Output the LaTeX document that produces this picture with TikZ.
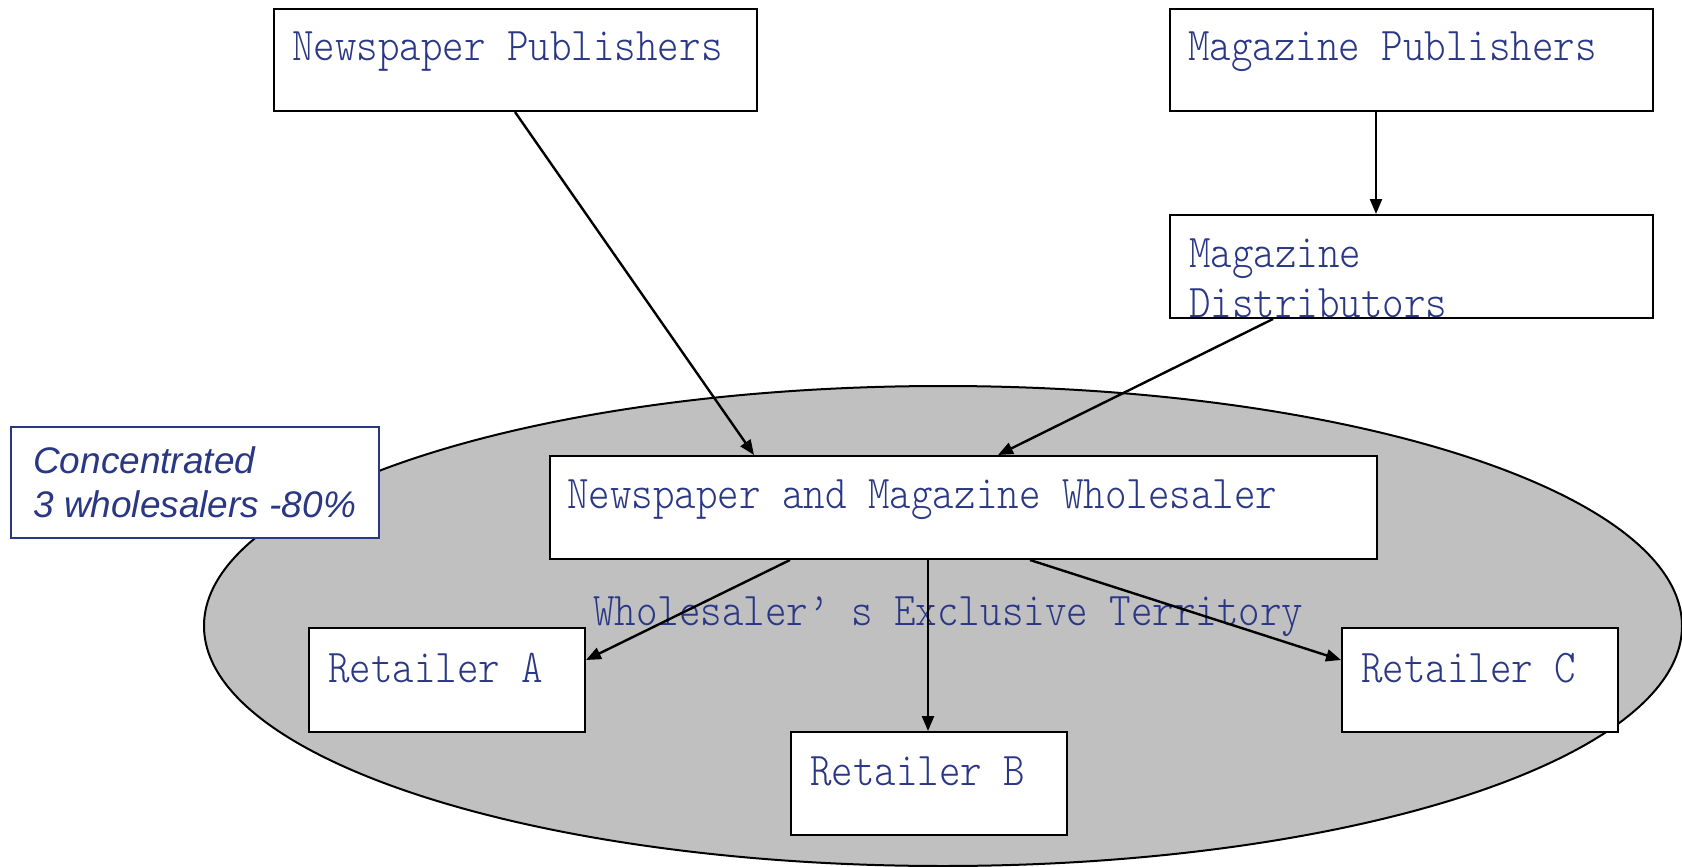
\documentclass[tikz,border=0pt]{standalone}
\usepackage{fontspec}
\usetikzlibrary{arrows.meta,calc}
\newfontfamily\boxfont[FakeStretch=0.872]{Latin Modern Mono Light}
\newfontfamily\notefont{Liberation Sans}
\definecolor{inkblue}{RGB}{42,55,132}
\definecolor{zone}{RGB}{192,192,192}
\tikzset{
  box/.style={draw, line width=2pt, fill=white, anchor=north west, inner sep=0pt},
  label text/.style={anchor=base west, inner sep=0pt, text=inkblue,
    font=\boxfont\fontsize{47}{50}\selectfont},
  note text/.style={anchor=base west, inner sep=0pt, text=inkblue,
    font=\notefont\itshape\fontsize{37}{44}\selectfont},
  flow/.style={line width=2.4pt, -{Triangle[length=15pt,width=12pt]}}
}
\begin{document}
\begin{tikzpicture}[x=1pt,y=-1pt]
\useasboundingbox (0,0) rectangle (1682,867);

% exclusive territory of the wholesaler
\draw[line width=2pt, fill=zone] (943,626) ellipse [x radius=739, y radius=240];
\node[label text] (terr) at (593,625) {Wholesaler’ s Exclusive Territory};

% market concentration note
\node[box, draw=inkblue, line width=1.5pt, minimum width=368pt, minimum height=111pt] (conc) at (10,426) {};
\node[note text] (conc1) at (33,473) {Concentrated};
\node[note text] (conc2) at (33,517) {3 wholesalers -80\%};

% publishers and distributors
\node[box, minimum width=483pt, minimum height=102pt] (np) at (273,8) {};
\node[label text] (npt) at (292,61) {Newspaper Publishers};

\node[box, minimum width=483pt, minimum height=102pt] (mp) at (1169,8) {};
\node[label text] (mpt) at (1188,61) {Magazine Publishers};

\node[box, minimum width=483pt, minimum height=103pt] (md) at (1169,214) {};
\node[label text] (mdt1) at (1189,267) {Magazine};
\node[label text] (mdt2) at (1189,317) {Distributors};

% wholesaler
\node[box, minimum width=827pt, minimum height=103pt] (wh) at (549,455) {};
\node[label text] (wht) at (567,508) {Newspaper and Magazine Wholesaler};

% retailers
\node[box, minimum width=276pt, minimum height=104pt] (ra) at (308,627) {};
\node[label text] (rat) at (328,682) {Retailer A};

\node[box, minimum width=276pt, minimum height=104pt] (rc) at (1341,627) {};
\node[label text] (rct) at (1361,682) {Retailer C};

\node[box, minimum width=276pt, minimum height=103pt] (rb) at (790,731) {};
\node[label text] (rbt) at (810,785) {Retailer B};

% flows
\draw[flow] ([xshift=242pt]np.south west) -- ([xshift=205pt]wh.north west);
\draw[flow] ([xshift=207pt]mp.south west) -- ([xshift=207pt]md.north west);
\draw[flow] ([xshift=104pt]md.south west) -- ([xshift=449pt]wh.north west);
\draw[flow] ([xshift=241pt]wh.south west) -- ([yshift=-33pt]ra.north east);
\draw[flow] ([xshift=379pt]wh.south west) -- ([xshift=138pt]rb.north west);
\draw[flow] ([xshift=481pt]wh.south west) -- ([yshift=-33pt]rc.north west);
\end{tikzpicture}
\end{document}
